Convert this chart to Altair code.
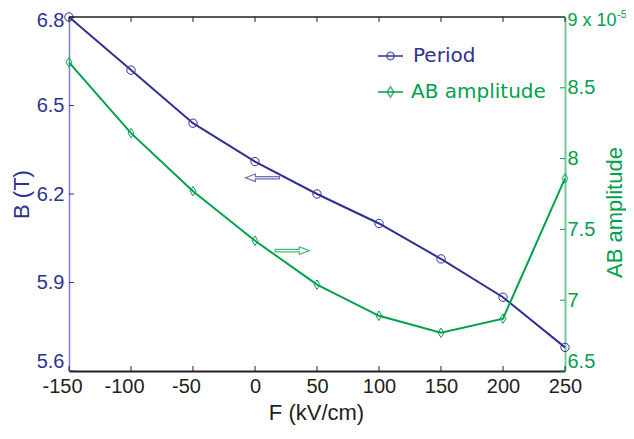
import altair as alt
import pandas as pd

# ---- data ----
F = [-150, -100, -50, 0, 50, 100, 150, 200, 250]
period = [6.80, 6.62, 6.44, 6.31, 6.20, 6.10, 5.98, 5.85, 5.68]
ab_amp = [8.68, 8.18, 7.77, 7.42, 7.11, 6.89, 6.77, 6.87, 7.86]

x_ticks = [-150, -100, -50, 0, 50, 100, 150, 200, 250]
left_ticks = [5.6, 5.9, 6.2, 6.5, 6.8]
right_ticks = [6.5, 7, 7.5, 8, 8.5, 9]
legend_labels = ["Period", "AB amplitude"]
arrow_left_F = [6]
arrow_left_v = [6.255]
arrow_right_F = [30]
arrow_right_v = [7.35]

BLUE = "#2e3192"
GREEN = "#00a14b"
LBLUE = "#7480c8"
LGREEN = "#74c99a"
BLACK = "#231f20"
W, H = 496, 354
FONT = "Liberation Sans"

df = pd.DataFrame({"F": F, "period": period, "ab": ab_amp})
xt = pd.DataFrame({"F": x_ticks})
lt = pd.DataFrame({"period": left_ticks})
rt = pd.DataFrame({"ab": right_ticks})
one = pd.DataFrame({"k": [0]})

xs = alt.Scale(domain=[-150, 250], nice=False, zero=False)
ls = alt.Scale(domain=[5.6, 6.8], nice=False, zero=False)
rs = alt.Scale(domain=[6.5, 9], nice=False, zero=False)

x_axis = alt.Axis(
    values=x_ticks, title="F (kV/cm)", grid=False, ticks=False,
    labelExpr="'' + datum.value", labelOverlap=False, labelFlush=False,
    labelOffset={"condition": {"test": "datum.value < 0", "value": -7}, "value": 0},
    domainColor=BLACK, domainWidth=2,
    labelFont=FONT, labelFontSize=20, labelColor=BLACK, labelPadding=5,
    titleFont=FONT, titleFontSize=22, titleFontWeight="normal", titleColor=BLACK,
    titleX=247, titleY=41, titleBaseline="middle", titleAlign="center",
)

left_axis = alt.Axis(
    values=left_ticks, format=".1f", title="B (T)", grid=False, ticks=False,
    labelOverlap=False, labelFlush=False,
    domainColor=LBLUE, domainWidth=1.5,
    labelFont=FONT, labelFontSize=20, labelColor=BLUE, labelPadding=5,
    labelOffset={"condition": {"test": "datum.value == 6.8", "value": 3}, "value": 0},
    labelBaseline={"condition": {"test": "datum.value == 5.6", "value": "bottom"}, "value": "middle"},
    titleFont=FONT, titleFontSize=22, titleFontWeight="normal", titleColor=BLUE,
    titleAngle=270, titleX=-48, titleY=177, titleBaseline="middle", titleAlign="center",
)

right_axis = alt.Axis(
    orient="right", values=right_ticks, format="~g", title="AB amplitude",
    grid=False, ticks=False, domainColor=LGREEN, domainWidth=2,
    labelOverlap=False, labelFlush=False,
    labelExpr="datum.value == 9 ? '9 x 10' : datum.label",
    labelFont=FONT, labelColor=GREEN, labelPadding=2,
    labelFontSize={"condition": {"test": "datum.value == 9", "value": 18}, "value": 20},
    labelOffset={"condition": {"test": "datum.value == 9", "value": 3}, "value": 0},
    labelBaseline={"condition": {"test": "datum.value == 6.5", "value": "bottom"}, "value": "middle"},
    titleFont=FONT, titleFontSize=22, titleFontWeight="normal", titleColor=GREEN,
    titleAngle=270, titleX=49, titleY=195, titleBaseline="middle", titleAlign="center",
)

LEFT_ARROW = "M-1,0L-0.42,-0.22L-0.42,-0.07L1,-0.07L1,0.07L-0.42,0.07L-0.42,0.22Z"
RIGHT_ARROW = "M1,0L0.42,-0.22L0.42,-0.07L-1,-0.07L-1,0.07L0.42,0.07L0.42,0.22Z"
TALL_DIAMOND = "M0,-1L0.62,0L0,1L-0.62,0Z"

X = lambda: alt.X("F:Q", scale=xs, axis=x_axis)
YL = lambda: alt.Y("period:Q", scale=ls, axis=left_axis)
YR = lambda: alt.Y("ab:Q", scale=rs, axis=right_axis)

# ---- left (Period) group ----
left_line = alt.Chart(df).mark_line(
    color=BLUE, strokeWidth=2,
    point=alt.OverlayMarkDef(shape="circle", filled=False, size=70, color=BLUE, strokeWidth=1),
).encode(x=X(), y=YL())

left_ticks_rule = alt.Chart(lt).mark_rule(color=BLUE, strokeWidth=1).encode(
    y=YL(), x=alt.value(0), x2=alt.value(5),
)

left_arrow = alt.Chart(pd.DataFrame({"F": arrow_left_F, "period": arrow_left_v})).mark_point(
    shape=LEFT_ARROW, size=1156, filled=False, color=BLUE, strokeWidth=1.2
).encode(x=X(), y=YL())

bottom_ticks = alt.Chart(xt).mark_rule(color=BLACK, strokeWidth=1).encode(
    x=X(), y=alt.value(H), y2=alt.value(H - 5)
)
top_ticks = alt.Chart(xt).mark_rule(color=BLACK, strokeWidth=1).encode(
    x=X(), y=alt.value(0), y2=alt.value(5)
)
top_border = alt.Chart(one).mark_rule(color=BLACK, strokeWidth=1.5).encode(
    x=alt.value(0), x2=alt.value(W), y=alt.value(0)
)

left_group = alt.layer(left_line, left_ticks_rule, left_arrow, bottom_ticks, top_ticks, top_border)

# ---- right (AB amplitude) group ----
right_line = alt.Chart(df).mark_line(
    color=GREEN, strokeWidth=2,
    point=alt.OverlayMarkDef(shape=TALL_DIAMOND, filled=False, size=90, color=GREEN, strokeWidth=1),
).encode(x=X(), y=YR())

right_ticks_rule = alt.Chart(rt).mark_rule(color=GREEN, strokeWidth=1).encode(
    y=YR(), x=alt.value(W), x2=alt.value(W - 5),
)

right_arrow = alt.Chart(pd.DataFrame({"F": arrow_right_F, "ab": arrow_right_v})).mark_point(
    shape=RIGHT_ARROW, size=1156, filled=False, color=GREEN, strokeWidth=1.2
).encode(x=X(), y=YR())

exponent = alt.Chart(one).mark_text(
    text="-5", font=FONT, fontSize=11, color=GREEN, align="left", baseline="alphabetic"
).encode(x=alt.value(548), y=alt.value(1))

# manual legend
leg_line_p = alt.Chart(one).mark_rule(color=BLUE, strokeWidth=1.5).encode(
    x=alt.value(309), x2=alt.value(334), y=alt.value(39))
leg_pt_p = alt.Chart(one).mark_point(shape="circle", filled=False, size=55, color=BLUE, strokeWidth=1.5).encode(
    x=alt.value(321.5), y=alt.value(39))
leg_txt_p = alt.Chart(one).mark_text(
    text=legend_labels[0], font="DejaVu Sans", fontSize=20, color=BLUE, align="left", baseline="middle"
).encode(x=alt.value(344), y=alt.value(39))

leg_line_a = alt.Chart(one).mark_rule(color=GREEN, strokeWidth=1.5).encode(
    x=alt.value(309), x2=alt.value(334), y=alt.value(75))
leg_pt_a = alt.Chart(one).mark_point(shape=TALL_DIAMOND, filled=False, size=110, color=GREEN, strokeWidth=1.5).encode(
    x=alt.value(321.5), y=alt.value(75))
leg_txt_a = alt.Chart(one).mark_text(
    text=legend_labels[1], font="DejaVu Sans", fontSize=20, color=GREEN, align="left", baseline="middle"
).encode(x=alt.value(342), y=alt.value(75))

right_group = alt.layer(right_line, right_ticks_rule, right_arrow, exponent,
                        leg_line_p, leg_pt_p, leg_txt_p, leg_line_a, leg_pt_a, leg_txt_a)

chart = alt.layer(left_group, right_group).resolve_scale(y="independent").properties(
    width=W, height=H,
    padding={"left": 61, "top": 9, "right": 61, "bottom": 60},
    autosize=alt.AutoSizeParams(type="none"),
    background="white",
).configure_view(stroke=None)

chart.save("out.html", embed_options={"renderer": "svg", "actions": False})
